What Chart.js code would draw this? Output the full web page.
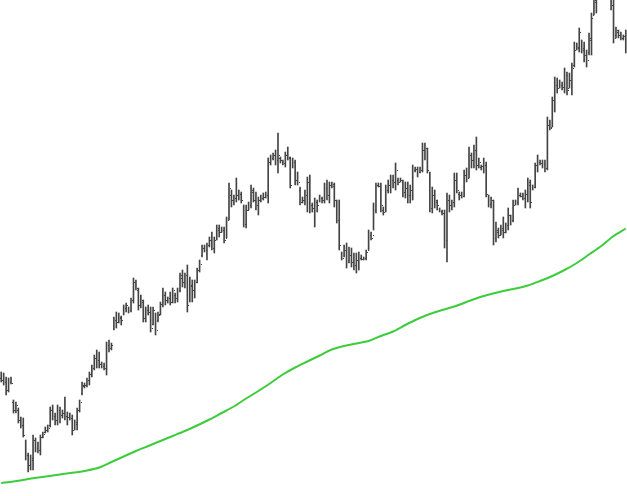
<!DOCTYPE html>
<html>
<head>
<meta charset="utf-8">
<script src="https://cdn.jsdelivr.net/npm/chart.js@4/dist/chart.umd.min.js"></script>
<style>
  html, body { margin: 0; padding: 0; background: #fff; }
  #wrap { width: 627px; height: 496px; }
</style>
</head>
<body>
<div id="wrap"><canvas id="ohlc" width="627" height="496"></canvas></div>
<script>
// daily bars (price units)
const highs = [
  128,127,123,122,123,100,98,92,83,82, 60,47,45,65,62,58,65,68,73,75,
  93,95,87,95,93,90,103,88,87,85, 80,92,100,118,117,122,128,135,145,150,
  148,138,137,158,160,157,183,188,187,184, 195,197,193,202,222,220,212,205,200,193,
  195,193,193,187,188,198,212,208,203,208, 212,207,212,227,230,227,235,223,220,220,
  232,240,255,255,257,263,268,263,275,275, 273,273,283,317,310,305,322,310,308,295,
  295,298,315,312,308,303,305,307,308,342, 345,347,350,367,343,340,348,353,343,342,
  340,328,313,303,310,323,325,297,302,300, 305,303,317,320,318,318,317,300,300,248,
  255,257,253,252,247,247,248,245,243,250, 270,268,297,317,317,317,293,315,320,325,
  325,337,322,322,320,318,318,315,335,333, 333,333,357,357,352,328,313,310,300,292,
  290,290,307,305,300,327,327,308,308,330, 332,353,347,355,363,342,335,342,338,305,
  303,300,278,272,275,283,277,292,285,300, 300,312,307,307,310,322,320,315,337,345,
  340,340,340,383,380,403,423,422,420,418, 432,428,427,437,458,457,472,460,458,450,
  467,487,503,505,515,530,525,535,520,510, 505,473,470,468,465,470
];
const lows = [
  118,115,105,108,116,87,87,77,72,63, 40,28,30,30,48,47,45,62,67,68,
  73,80,75,75,77,82,80,75,80,65, 70,70,88,105,112,113,115,123,130,132,
  132,132,130,125,148,150,170,172,177,175, 185,188,187,188,197,210,190,192,178,178,
  185,168,175,165,178,185,193,195,197,195, 197,197,198,208,213,212,188,198,198,202,
  217,228,243,248,240,253,250,247,260,263, 268,257,262,280,293,295,298,300,297,273,
  272,290,292,298,290,285,298,300,302,297, 335,340,335,327,337,335,333,340,312,332,
  315,315,295,297,295,288,287,288,273,288, 298,297,297,300,297,312,293,277,250,240,
  243,232,237,233,230,227,230,240,240,240, 250,260,270,287,313,288,285,288,307,307,
  312,310,315,318,303,302,297,297,300,328, 323,327,328,340,327,288,287,292,290,288,
  285,252,238,288,290,293,307,300,302,303, 318,322,332,332,330,332,330,327,303,293,
  292,255,258,262,265,262,267,270,275,278, 295,295,303,300,292,298,292,310,312,328,
  335,332,328,330,370,373,388,407,412,410, 407,405,412,405,433,450,448,447,438,433,
  445,445,485,487,503,505,503,508,502,490, 457,462,462,460,460,447
];
const opens = [
  122,120,118,110,118,98,90,90,80,75, 58,45,35,40,58,52,50,63,68,70,
  75,88,84,80,90,85,87,84,83,82, 72,76,90,107,114,115,120,126,132,142,
  140,136,134,130,155,152,172,180,178,182, 186,192,192,190,200,218,210,196,198,182,
  190,188,176,185,180,186,195,205,200,202, 200,205,202,210,222,218,225,200,214,210,
  218,230,245,252,250,255,258,252,262,270, 268,270,262,282,305,300,302,305,306,293,
  276,290,295,308,300,295,300,302,303,305, 338,342,345,340,342,338,337,345,342,335,
  338,320,310,298,300,305,318,295,292,298, 300,302,300,312,305,315,314,298,280,246,
  242,250,240,245,238,235,240,242,241,242, 250,265,265,290,315,314,290,290,310,315,
  320,318,320,318,318,308,312,305,310,330, 331,328,330,350,352,326,292,305,298,290,
  288,287,260,300,295,298,320,306,305,304, 325,322,345,340,350,335,333,334,335,303,
  296,298,262,268,265,270,268,275,283,280, 296,298,305,304,302,305,315,312,313,335,
  338,337,336,332,375,373,400,415,413,415, 412,425,412,418,435,452,452,458,450,445,
  448,460,485,498,505,512,520,510,515,505, 495,465,468,465,462,464
];
const closes = [
  120,118,110,118,117,90,95,80,75,65, 45,35,42,60,52,50,63,66,70,72,
  90,84,80,90,85,87,84,83,82,70, 78,90,98,115,115,120,126,132,142,140,
  136,134,132,155,152,155,180,178,183,180, 192,195,190,200,218,212,195,200,182,190,
  188,172,190,170,185,196,205,200,202,198, 210,202,210,225,218,225,195,215,210,218,
  230,236,252,250,255,260,252,260,272,268, 270,260,280,312,300,302,305,306,300,276,
  290,295,310,300,295,300,302,303,305,338, 342,345,340,345,340,337,345,343,315,338,
  320,318,298,300,305,318,295,292,298,295, 302,300,312,305,315,316,300,280,255,242,
  250,238,245,238,235,240,242,241,242,248, 265,262,290,315,314,295,288,310,315,320,
  318,330,318,320,308,312,305,310,330,331, 328,330,350,352,330,292,305,300,295,289,
  287,260,300,295,298,320,310,305,304,325, 322,345,340,350,335,338,334,335,306,296,
  300,262,270,265,272,268,275,285,280,295, 298,305,304,302,306,318,298,313,335,338,
  337,336,332,375,372,400,415,412,415,413, 428,410,420,432,450,453,468,452,445,440,
  462,482,500,502,512,525,508,530,505,495, 462,470,465,462,464,452
];
// moving average, read every 5th bar
const maStep = 5;
const maValues = [
  17,18.5,20.5,22.5,24,26,27.5,29.5,32.5,38,
  43.5,49,54,59,64,69,74.5,80.5,87,93.5,
  101.5,109,117,125.5,132.5,138.5,144.5,150.5,154,156.5,
  159,164,168.5,175,181,186,190,193.5,198,202.5,
  206,209,211.5,214.5,219,224,230,237,245.5,254,
  264,271.5
];
const days = Array.from({ length: highs.length }, (_, i) => 'D' + (i + 1));

const barColor = '#444444';

// open/close ticks on each bar, 1px stubs like the original
const tickPlugin = {
  id: 'ohlcTicks',
  afterDatasetsDraw(chart) {
    const meta = chart.getDatasetMeta(0);
    const y = chart.scales.y;
    const ctx = chart.ctx;
    ctx.save();
    ctx.fillStyle = barColor;
    meta.data.forEach((el, i) => {
      const x = Math.round(el.x);
      const yo = Math.round(y.getPixelForValue(opens[i]));
      const yc = Math.round(y.getPixelForValue(closes[i]));
      ctx.fillRect(x - 1, yo, 1, 1);
      ctx.fillRect(x + 1, yc, 1, 1);
    });
    ctx.restore();
  }
};

new Chart(document.getElementById('ohlc'), {
  type: 'bar',
  data: {
    labels: days,
    datasets: [
      {
        type: 'bar',
        data: lows.map((l, i) => [l, highs[i]]),
        backgroundColor: barColor,
        borderWidth: 0,
        barThickness: 1,
        order: 2
      },
      {
        type: 'line',
        data: maValues.map((v, k) => ({ x: days[k * maStep], y: v })),
        borderColor: '#3ccc3c',
        borderWidth: 2,
        pointRadius: 0,
        tension: 0.3,
        order: 1
      }
    ]
  },
  options: {
    responsive: false,
    animation: false,
    layout: { padding: 0 },
    plugins: { legend: { display: false }, tooltip: { enabled: false } },
    scales: {
      x: { display: false, offset: true },
      y: { display: false, min: 4, max: 500 }
    }
  },
  plugins: [tickPlugin]
});
</script>
</body>
</html>
